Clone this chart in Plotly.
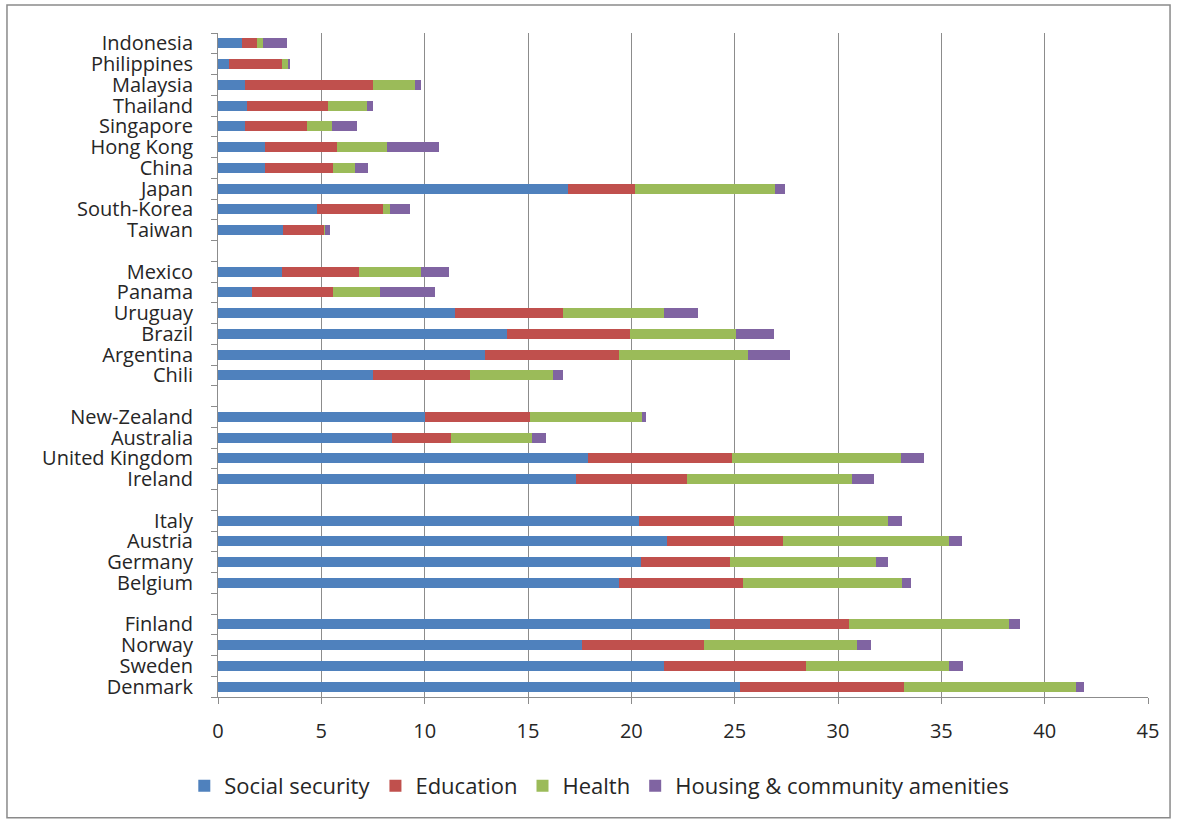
import plotly.graph_objects as go

# Countries listed top to bottom; groups separated by an empty row
countries = [
    "Indonesia", "Philippines", "Malaysia", "Thailand", "Singapore", "Hong Kong",
    "China", "Japan", "South-Korea", "Taiwan",
    "Mexico", "Panama", "Uruguay", "Brazil", "Argentina", "Chili",
    "New-Zealand", "Australia", "United Kingdom", "Ireland",
    "Italy", "Austria", "Germany", "Belgium",
    "Finland", "Norway", "Sweden", "Denmark",
]
group_sizes = [10, 6, 4, 4, 4]

social_security = [1.15, 0.55, 1.30, 1.39, 1.30, 2.27, 2.27, 16.95, 4.77, 3.16,
                   3.08, 1.63, 11.47, 13.97, 12.92, 7.52,
                   10.01, 8.40, 17.92, 17.32,
                   20.35, 21.72, 20.48, 19.40,
                   23.80, 17.61, 21.56, 25.27]
education = [0.72, 2.53, 6.20, 3.91, 2.99, 3.50, 3.28, 3.22, 3.23, 1.97,
             3.76, 3.95, 5.24, 5.96, 6.50, 4.67,
             5.08, 2.86, 6.93, 5.38,
             4.61, 5.63, 4.27, 6.00,
             6.71, 5.93, 6.91, 7.90]
health = [0.33, 0.30, 2.03, 1.89, 1.21, 2.39, 1.08, 6.78, 0.32, 0.05,
          2.96, 2.26, 4.87, 5.13, 6.24, 4.03,
          5.41, 3.92, 8.18, 7.96,
          7.45, 8.03, 7.08, 7.70,
          7.77, 7.38, 6.91, 8.34]
housing = [1.12, 0.10, 0.29, 0.31, 1.24, 2.54, 0.61, 0.48, 0.97, 0.24,
           1.39, 2.67, 1.66, 1.84, 2.01, 0.49,
           0.21, 0.67, 1.13, 1.09,
           0.67, 0.61, 0.61, 0.41,
           0.55, 0.69, 0.66, 0.40]

series = [
    ("Social security", social_security, "#4F81BD"),
    ("Education", education, "#C0504D"),
    ("Health", health, "#9BBB59"),
    ("Housing & community amenities", housing, "#8064A2"),
]

# slot index for each country (with one empty slot between groups)
ypos = []
slot = 0
for gi, n in enumerate(group_sizes):
    for _ in range(n):
        ypos.append(slot)
        slot += 1
    if gi < len(group_sizes) - 1:
        slot += 1
n_slots = slot

fig = go.Figure()
for name, vals, col in series:
    fig.add_trace(go.Bar(
        x=vals, y=ypos, name=name, orientation="h",
        marker=dict(color=col, line=dict(width=0)), width=0.48,
    ))

grid = "#8c8c8c"
txt = "#262626"
font_family = "Open Sans, Liberation Sans, sans-serif"

fig.update_layout(
    barmode="stack",
    width=1180, height=821,
    margin=dict(l=218, r=32, t=33, b=124),
    paper_bgcolor="white", plot_bgcolor="white",
    font=dict(family=font_family, size=20, color=txt),
    showlegend=True,
    legend=dict(orientation="h", x=0.41, xanchor="center", y=-0.134, yanchor="middle",
                font=dict(size=22, color=txt), itemwidth=30, traceorder="normal"),
    xaxis=dict(range=[0, 45], tickvals=list(range(0, 46, 5)), showgrid=True,
               gridcolor=grid, gridwidth=1, zeroline=False, showline=True,
               linecolor=grid, ticks="outside", ticklen=6, tickcolor=grid,
               ticklabelstandoff=10,
               tickfont=dict(size=20, color=txt)),
    yaxis=dict(range=[n_slots - 0.5, -0.5], tickmode="array", tickvals=ypos,
               ticktext=countries, showgrid=False, zeroline=False, showline=True,
               linecolor=grid, ticks="outside", ticklen=20, tickcolor="rgba(0,0,0,0)",
               tickfont=dict(size=20, color=txt),
               minor=dict(tickmode="array", tickvals=[i - 0.5 for i in range(n_slots + 1)],
                          ticks="outside", ticklen=6, tickcolor=grid, showgrid=False)),
    shapes=[dict(type="rect", xref="paper", yref="paper",
                 x0=-0.2269, x1=1.0237, y0=-0.182, y1=1.042,
                 line=dict(color="#8a8a8a", width=1.5), fillcolor="rgba(0,0,0,0)")],
)

fig.write_html("out.html")
